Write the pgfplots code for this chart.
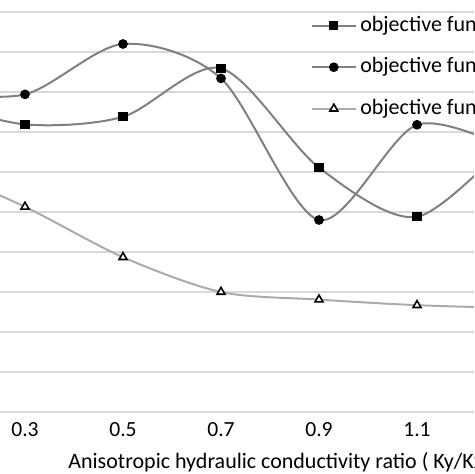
\documentclass[border=0pt]{standalone}
\usepackage{pgfplots}
\pgfplotsset{compat=1.18}
\usepackage{fontspec}
\setmainfont{Carlito}

\definecolor{gridgray}{RGB}{217,217,217}
\definecolor{linegray}{RGB}{128,128,128}
\definecolor{lightline}{RGB}{171,171,171}

\begin{document}
\fontsize{11}{13}\selectfont
\begin{tikzpicture}
\path[use as bounding box] (0,0) rectangle (237pt,237pt);
\clip (0,0) rectangle (237pt,237pt);
\begin{axis}[
    at={(0pt,31pt)}, anchor=south west,
    x=245pt, y=20pt,
    xmin=0.249, xmax=1.2163,
    ymin=0, ymax=10.3,
    axis line style={draw=none},
    ytick={0,1,...,10},
    yticklabels={},
    ymajorgrids=true,
    grid style={gridgray, line width=0.75pt},
    xtick={0.3,0.5,0.7,0.9,1.1},
    xticklabels={0.3,0.5,0.7,0.9,1.1},
    major tick length=0pt,
    xticklabel style={anchor=base, yshift=-12.5pt, inner sep=0pt,
        font=\fontsize{10.8}{12}\selectfont},
    xlabel={Anisotropic hydraulic conductivity ratio ( Ky/Kx )},
    xlabel style={at={(axis description cs:0.1435,0)}, anchor=base west,
        yshift=-28.5pt, inner sep=0pt, font=\fontsize{11}{13}\selectfont},
    legend style={at={(rel axis cs:0.656,0.962)}, anchor=north west,
        draw=none, fill=none, inner sep=0pt, row sep=11.05pt, column sep=2pt,
        font=\fontsize{11}{13}\selectfont,
        nodes={inner sep=0pt, text height=7.5pt, text depth=2.2pt}},
    legend cell align=left,
    legend image code/.code={
        \draw[mark repeat=2, mark phase=2, #1]
            plot coordinates {(0pt,0pt) (10.75pt,0pt) (21.5pt,0pt)};},
]

\addplot[color=linegray, line width=1pt, smooth, tension=0.5,
    mark=square*, mark size=1.8pt,
    mark options={fill=black, draw=black, solid}]
    coordinates {
    (0.1,7.80)(0.3,7.19)(0.5,7.38)(0.7,8.59)(0.9,6.11)(1.1,4.88)(1.3,6.93)
    };
    \addlegendentry{objective function 1}

\addplot[color=linegray, line width=1pt, smooth, tension=0.5,
    mark=*, mark size=1.9pt,
    mark options={fill=black, draw=black, solid}]
    coordinates {
    (0.1,8.00)(0.3,7.94)(0.5,9.20)(0.7,8.34)(0.9,4.80)(1.1,7.18)(1.3,6.50)
    };
    \addlegendentry{objective function 2}

\addplot[color=lightline, line width=1pt, smooth, tension=0.5,
    mark=triangle*, mark size=2.3pt,
    mark options={fill=white, draw=black, line width=0.8pt, solid}]
    coordinates {
    (0.1,6.20)(0.3,5.13)(0.5,3.87)(0.7,3.00)(0.9,2.81)(1.1,2.67)(1.3,2.60)
    };
    \addlegendentry{objective function 3}

\end{axis}
\end{tikzpicture}
\end{document}
